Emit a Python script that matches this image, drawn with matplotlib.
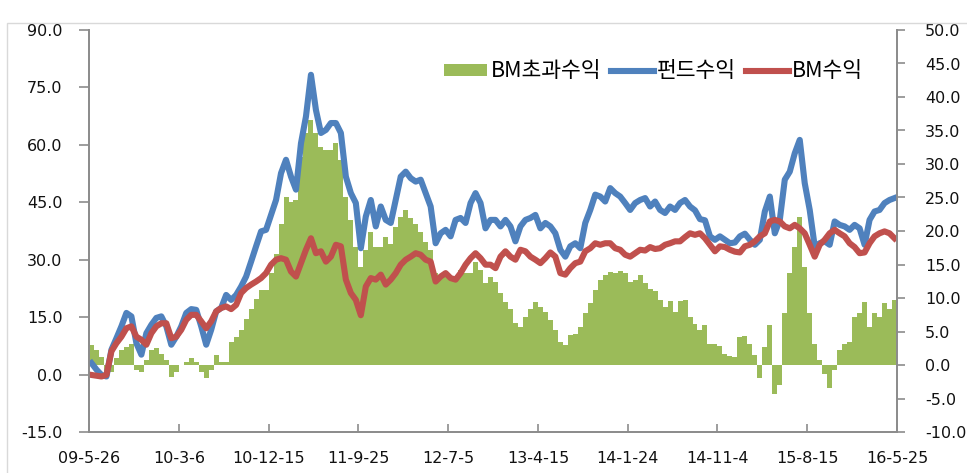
import numpy as np
import matplotlib
matplotlib.use("Agg")
import matplotlib.pyplot as plt
from matplotlib.patches import Rectangle

# 펀드수익 (left axis, %)
fund = [3.0, 1.3, -0.1, -0.5, 6.5, 9.5, 12.6, 16.1, 15.2, 8.2, 5.2, 10.8, 13.0, 14.8, 15.2, 12.6, 7.8, 9.9, 12.6, 16.1, 17.1, 16.9, 12.6, 7.8, 11.7, 16.5, 17.4,
        20.8, 19.5, 20.8, 23.0, 25.6, 29.5, 33.5, 37.4, 37.8, 41.7, 45.6, 52.6, 56.1, 51.7, 48.3, 60.4, 67.4, 78.3, 69.1, 63.1, 63.9, 65.7, 65.7, 63.1, 51.7, 47.4, 44.8,
        33.0, 41.3, 45.6, 38.7, 43.9, 40.4, 39.6, 45.6, 51.7, 53.0, 51.3, 50.4, 50.9, 47.4, 43.9, 34.3, 36.9, 37.8, 36.1, 40.4, 40.9, 39.6, 44.8, 47.4, 44.8, 38.2, 40.4,
        40.4, 38.7, 40.4, 38.7, 34.8, 38.7, 40.4, 40.9, 41.7, 38.2, 39.6, 38.7, 36.9, 32.6, 30.8, 33.5, 34.3, 33.0, 39.6, 43.0, 47.0, 46.5, 45.2, 48.7, 47.4, 46.5, 44.8,
        43.0, 44.8, 45.6, 46.1, 43.9, 45.2, 43.0, 42.2, 43.9, 43.0, 44.8, 45.6, 43.9, 42.9, 40.6, 40.3, 36.1, 35.2, 36.1, 35.2, 34.3, 34.5, 36.1, 36.8, 35.2, 33.9, 35.2,
        42.6, 46.5, 36.9, 40.4, 50.9, 53.0, 57.8, 61.3, 50.0, 43.0, 33.5, 34.3, 34.8, 33.9, 40.0, 39.1, 38.7, 37.8, 39.1, 38.2, 33.9, 40.4, 42.6, 43.0, 44.8, 45.6, 46.1]

# BM수익 (left axis, %)
bm = [-0.1, -0.3, -0.5, -0.1, 6.1, 8.2, 9.9, 12.1, 12.6, 9.9, 9.1, 7.8, 10.8, 12.6, 13.4, 13.4, 9.5, 9.9, 11.7, 14.3, 15.6, 15.6, 13.9, 12.1, 13.9, 16.5, 17.4,
      17.8, 17.1, 18.2, 21.3, 22.6, 23.5, 24.3, 25.2, 26.5, 28.7, 30.0, 30.4, 30.0, 26.9, 25.6, 29.1, 32.6, 35.6, 31.7, 32.2, 29.5, 30.8, 33.9, 33.5, 24.8, 21.3, 19.5,
      15.5, 23.0, 25.2, 24.8, 26.1, 23.5, 24.8, 26.5, 28.7, 30.0, 30.8, 31.7, 31.3, 30.0, 29.5, 24.3, 25.6, 26.5, 25.2, 24.8, 26.5, 28.7, 30.4, 31.7, 30.4, 28.7, 28.7,
      27.8, 30.8, 32.2, 30.8, 30.0, 32.6, 32.2, 30.8, 30.0, 29.1, 30.4, 31.9, 30.8, 26.5, 26.1, 27.8, 29.1, 29.5, 32.2, 33.0, 34.3, 33.9, 34.3, 34.3, 33.0, 32.6, 31.3,
      30.8, 31.7, 32.6, 32.4, 33.3, 32.8, 33.0, 33.9, 34.3, 34.8, 34.8, 35.9, 36.9, 36.5, 36.9, 35.6, 33.9, 32.2, 33.5, 33.3, 32.6, 32.1, 31.9, 33.5, 33.9, 34.8, 36.1,
      36.9, 40.0, 40.4, 40.0, 38.7, 38.2, 39.1, 38.2, 36.9, 33.9, 30.8, 33.9, 35.2, 36.9, 37.8, 36.9, 36.1, 34.3, 33.3, 31.7, 31.9, 34.3, 36.1, 36.9, 37.4, 36.9, 35.6]

# BM초과수익 (right axis, %p)
excess = [3.0, 2.2, 1.2, -1.8, -1.0, 1.0, 2.2, 2.7, 3.2, -0.8, -1.0, 0.7, 2.2, 2.5, 1.7, 0.7, -1.8, -1.0, 0.0, 0.5, 1.0, 0.5, -1.0, -2.0, -0.8, 1.5, 0.5,
          0.5, 3.5, 4.2, 5.2, 6.9, 8.4, 9.9, 11.2, 11.2, 13.7, 16.6, 21.1, 25.1, 24.4, 24.6, 31.1, 34.6, 36.5, 34.6, 32.6, 32.1, 32.1, 33.1, 30.6, 25.1, 21.6, 17.6,
          14.7, 17.1, 19.9, 17.6, 17.6, 19.1, 18.1, 20.6, 22.1, 23.1, 21.9, 21.1, 19.9, 18.4, 17.1, 13.7, 13.4, 13.2, 12.9, 13.2, 14.2, 13.7, 13.7, 15.4, 14.2, 12.2, 13.2,
          12.4, 10.7, 9.4, 8.4, 6.2, 5.7, 7.2, 8.4, 9.4, 8.7, 7.9, 6.7, 5.2, 3.5, 3.0, 4.5, 4.7, 5.7, 7.7, 9.2, 11.2, 12.7, 13.4, 13.9, 13.7, 14.1, 13.7,
          12.4, 12.7, 13.4, 12.2, 11.3, 11.1, 9.7, 8.7, 9.6, 7.9, 9.6, 9.7, 7.2, 6.1, 5.2, 6.0, 3.2, 3.1, 2.8, 1.7, 1.3, 1.2, 4.2, 4.3, 3.2, 1.5, -2.0,
          2.7, 6.0, -4.3, -3.0, 7.7, 13.7, 17.6, 22.1, 14.7, 7.7, 3.2, 0.7, -1.3, -3.5, -0.8, 2.2, 3.2, 3.5, 7.2, 7.7, 9.4, 5.7, 7.7, 7.2, 9.2, 8.4, 9.7]

date_labels = ['09-5-26', '10-3-6', '10-12-15', '11-9-25', '12-7-5',
               '13-4-15', '14-1-24', '14-11-4', '15-8-15', '16-5-25']

n = len(fund)
x = np.arange(n)
step = n // (len(date_labels) - 1)

fig = plt.figure(figsize=(9.67, 4.73), dpi=100)
ax1 = fig.add_axes([89 / 967, 1 - 432 / 473, (897 - 89) / 967, (432 - 30) / 473])
ax2 = ax1.twinx()

# 초과수익 막대 (오른쪽 축)
ax2.bar(x, excess, width=1.0, color='#9BBB59', linewidth=0, label='BM초과수익')

# 펀드 / BM 수익 (왼쪽 축)
ax1.plot(x, fund, color='#4F81BD', lw=4.4, label='펀드수익', solid_joinstyle='round')
ax1.plot(x, bm, color='#C0504D', lw=4.4, label='BM수익', solid_joinstyle='round')

ax1.set_zorder(ax2.get_zorder() + 1)
ax1.patch.set_visible(False)

ax1.set_xlim(-0.5, n - 0.5)
ax1.set_ylim(-15, 90)
ax2.set_ylim(-10, 50)
ax1.set_yticks(np.arange(-15, 91, 15))
ax1.set_yticklabels(['%.1f' % v for v in np.arange(-15, 91, 15)])
ax2.set_yticks(np.arange(-10, 51, 5))
ax2.set_yticklabels(['%.1f' % v for v in np.arange(-10, 51, 5)])
ax1.set_xticks(-0.5 + step * np.arange(len(date_labels)))
ax1.set_xticklabels(date_labels)

gray = '#8C8C8C'
for ax in (ax1, ax2):
    ax.spines['top'].set_visible(False)
    for s in ('left', 'right', 'bottom'):
        ax.spines[s].set_color(gray)
        ax.spines[s].set_linewidth(1.3)
ax1.tick_params(axis='y', direction='out', length=7, width=1.2, color=gray,
                pad=12, labelsize=11.5, labelcolor='#111111')
ax2.tick_params(axis='y', direction='out', length=6, width=1.2, color=gray,
                pad=14, labelsize=11.5, labelcolor='#111111')
ax1.tick_params(axis='x', direction='in', length=6, width=1.2, color=gray,
                pad=14, labelsize=11.5, labelcolor='#111111')

h1, l1 = ax2.get_legend_handles_labels()
h2, l2 = ax1.get_legend_handles_labels()
ax1.legend(h1 + h2, l1 + l2, loc='center right', bbox_to_anchor=(0.958, 0.897),
           ncol=3, frameon=False, handlelength=2.0, handleheight=0.45,
           handletextpad=0.15, columnspacing=0.45, borderaxespad=0, borderpad=0,
           prop={'family': ['Noto Sans CJK KR', 'DejaVu Sans'], 'size': 15.5})

# 바깥 테두리
fig.add_artist(Rectangle((7 / 967, -0.1), 1.1, 1.1 - 23 / 473,
                         transform=fig.transFigure, fill=False,
                         edgecolor='#D9D9D9', lw=1.0))

fig.savefig('out.png', dpi=100)
